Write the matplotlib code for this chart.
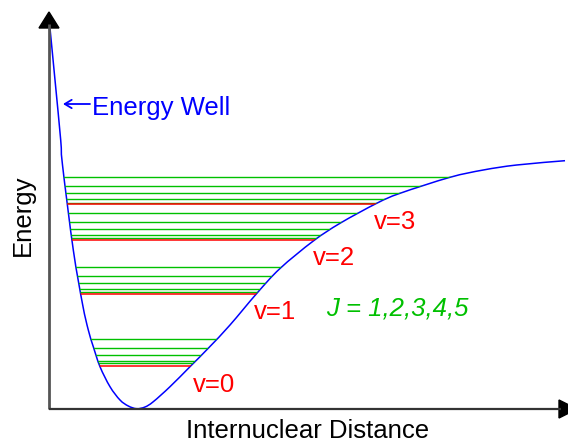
import numpy as np
import matplotlib
matplotlib.use("Agg")
import matplotlib.pyplot as plt
from matplotlib.patches import Polygon, PathPatch
from matplotlib.path import Path

plt.rcParams['font.family'] = ['Liberation Sans', 'DejaVu Sans']

# potential curve (distance, energy)
curve_r = [1, 6, 11.7, 13.5, 24.3, 33.7, 39.3, 44.3, 51, 61, 71, 79.3, 87.7, 96,
           104.3, 121, 141, 160, 181, 207.7, 231, 264.3, 291, 327.7,
           351, 401, 434.3, 467.7, 516]
curve_E = [380.7, 329, 269, 244, 159, 104, 79, 62.3, 42.3, 22.3, 9, 3, 0.3, 2,
           7.3, 22.3, 42.3, 61.5, 84, 115.5, 140.5, 168, 185.7, 205.7,
           215.7, 231.7, 239, 244, 248.3]

# vibrational levels (red) and rotational levels J=1..5 (green)
vib_labels = ['v=0', 'v=1', 'v=2', 'v=3']
vib_E = [43.3, 115, 168.7, 204.7]
rot_E = [
    [45.7, 48.3, 53.7, 61, 69.7],
    [117, 120.3, 125.7, 133, 141.7],
    [170.7, 174.3, 179.7, 186.7, 195.7],
    [206.3, 210.3, 215.7, 222.7, 231.7],
]
label_pos = [(144, 17.3), (205, 89.7), (264.3, 144), (325, 180)]

red = '#ff0000'
green = '#00c000'
blue = '#0000ff'


def smooth_path(xs, ys, close_top=None):
    # bezier path passing through the read points (catmull-rom handles)
    p = np.column_stack([xs, ys]).astype(float)
    verts = [p[0]]
    codes = [Path.MOVETO]
    n = len(p)
    for i in range(n - 1):
        p0 = p[max(i - 1, 0)]
        p3 = p[min(i + 2, n - 1)]
        c1 = p[i] + (p[i + 1] - p0) / 6.0
        c2 = p[i + 1] - (p3 - p[i]) / 6.0
        verts += [c1, c2, p[i + 1]]
        codes += [Path.CURVE4] * 3
    if close_top is not None:
        verts += [(xs[-1], close_top), (xs[0], close_top), p[0]]
        codes += [Path.LINETO, Path.LINETO, Path.CLOSEPOLY]
    return Path(verts, codes)


fig = plt.figure(figsize=(5.68, 4.41), dpi=100)
ax = fig.add_axes([0, 0, 1, 1])
ax.set_xlim(-49, 519)
ax.set_ylim(-32, 409)
ax.axis('off')

# well region used to clip the level lines
well = PathPatch(smooth_path(curve_r, curve_E, close_top=420),
                 transform=ax.transData, facecolor='none', edgecolor='none')
ax.add_patch(well)

for v in range(len(vib_E)):
    for e in rot_E[v]:
        ln, = ax.plot([-49, 519], [e, e], color=green, lw=1.0)
        ln.set_clip_path(well)
    ln, = ax.plot([-49, 519], [vib_E[v], vib_E[v]], color=red, lw=1.1)
    ln.set_clip_path(well)
    ax.text(label_pos[v][0], label_pos[v][1], vib_labels[v], color=red,
            fontsize=18.5, ha='left', va='baseline')

ax.add_patch(PathPatch(smooth_path(curve_r, curve_E), facecolor='none',
                       edgecolor=blue, lw=1.1))

# axes with arrow heads
ax.plot([0, 0], [0, 385], color='#555555', lw=2.0, solid_capstyle='butt')
ax.plot([0, 512], [0, 0], color='#333333', lw=1.6, solid_capstyle='butt')
ax.add_patch(Polygon([(-10, 381), (10, 381), (0, 397)], closed=True,
                     facecolor='black', edgecolor='black', clip_on=False))
ax.add_patch(Polygon([(510, -9), (510, 9), (528, 0)], closed=True,
                     facecolor='black', edgecolor='black', clip_on=False))

ax.annotate('', xy=(14, 305), xytext=(41, 305),
            arrowprops=dict(arrowstyle='->,head_length=0.5,head_width=0.3',
                            color=blue, lw=1.3, shrinkA=0, shrinkB=0))
ax.text(43, 294, 'Energy Well', color=blue, fontsize=18.5,
        ha='left', va='baseline')
ax.text(277, 93.3, 'J = 1,2,3,4,5', color=green, fontsize=18.5,
        style='italic', ha='left', va='baseline')
ax.text(259, -29, 'Internuclear Distance', color='black', fontsize=18.5,
        ha='center', va='baseline')
ax.text(-26, 194, 'Energy', color='black', fontsize=18.5, rotation=90,
        ha='center', va='center')

fig.savefig('out.png', dpi=100)
